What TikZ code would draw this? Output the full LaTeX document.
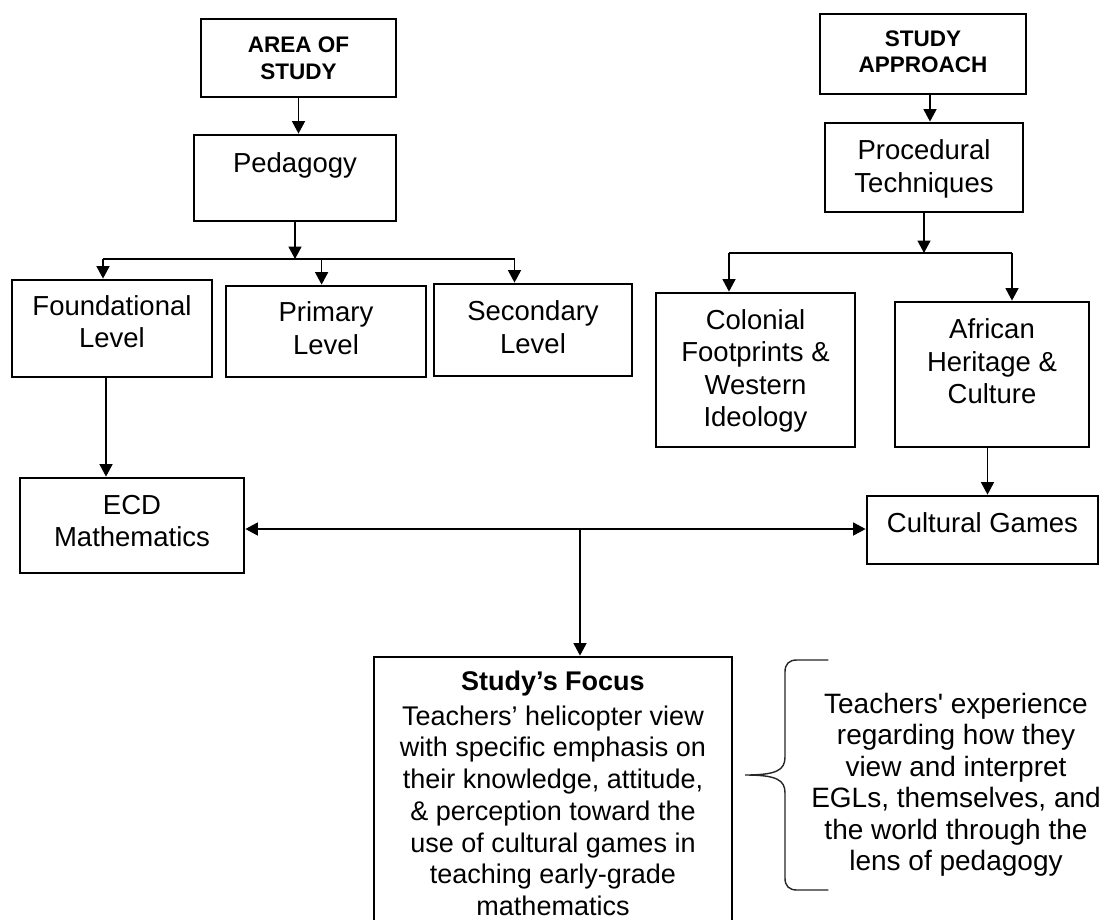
\documentclass[tikz,border=0pt]{standalone}
\usepackage{fontspec}
\setmainfont{Liberation Sans}
\usetikzlibrary{arrows.meta}
% strut that fixes the top of the first line of a label
\newcommand\capstrut{\rule{0pt}{0.8em}}
\begin{document}
\begin{tikzpicture}[x=1pt,y=-1pt,
  boxn/.style n args={2}{draw, line width=2.8pt, inner sep=0pt,
    minimum width=#1pt, minimum height=#2pt},
  lbl/.style={inner sep=0pt, anchor=north, align=center,
    font=\fontsize{27.5}{32.5}\selectfont},
  head/.style={inner sep=0pt, anchor=north, align=center,
    font=\fontsize{22.5}{26.5}\selectfont\bfseries},
  focushead/.style={inner sep=0pt, anchor=north, align=center,
    font=\fontsize{27}{31.7}\selectfont\bfseries},
  focusbody/.style={inner sep=0pt, anchor=north, align=center,
    font=\fontsize{27}{31.7}\selectfont},
  sidetext/.style={inner sep=0pt, anchor=north, align=center,
    font=\fontsize{28}{31.4}\selectfont},
  link/.style={line width=1.6pt},
  arr/.style={line width=1.6pt, -{Triangle[length=12.5pt,width=13pt]}},
  dblarr/.style={line width=1.6pt,
    {Triangle[length=12.5pt,width=13pt]}-{Triangle[length=12.5pt,width=13pt]}},
  bracepath/.style={line width=1.4pt, black!85, line cap=round}]

\useasboundingbox (0,0) rectangle (1117,919);
\fill[white] (0,0) rectangle (1117,919);
\clip (0,0) rectangle (1117,919);

% ---------- left column: area of study ----------
\node[boxn={195}{78}] (area) at (298.5,58) {};
\node[head] (areaT) at (298.5,34.7) {\capstrut AREA OF\\STUDY};

\node[boxn={202}{86}] (ped) at (295,178) {};
\node[lbl] (pedT) at (295,150) {\capstrut Pedagogy};

\node[boxn={200}{97}] (found) at (112,328.5) {};
\node[lbl] (foundT) at (112,293) {\capstrut Foundational\\Level};

\node[boxn={200}{91}] (prim) at (326,331.5) {};
\node[lbl] (primT) at (326,299.7) {\capstrut Primary\\Level};

\node[boxn={198}{92}] (sec) at (533,330) {};
\node[lbl] (secT) at (533,298.7) {\capstrut Secondary\\Level};

\node[boxn={224}{95}] (ecd) at (132,525.5) {};
\node[lbl] (ecdT) at (132,492) {\capstrut ECD\\Mathematics};

% ---------- right column: study approach ----------
\node[boxn={206}{80}] (sa) at (923,54) {};
\node[head] (saT) at (923,28) {\capstrut STUDY\\APPROACH};

\node[boxn={198}{89}] (proc) at (924,167.5) {};
\node[lbl] (procT) at (924,137.3) {\capstrut Procedural\\Techniques};

\node[boxn={199}{154}] (col) at (755.5,370) {};
\node[lbl] (colT) at (755.5,307) {\capstrut Colonial\\Footprints \&\\Western\\Ideology};

\node[boxn={194}{145}] (afr) at (992,374.5) {};
\node[lbl] (afrT) at (992,316.3) {\capstrut African\\Heritage \&\\Culture};

\node[boxn={231}{68}] (cg) at (982.5,530) {};
\node[lbl] (cgT) at (982.5,510.3) {\capstrut Cultural Games};

% ---------- focus of the study ----------
\node[boxn={358}{268}] (focus) at (553,791) {};
\node[focushead] (focusH) at (553,669.1) {\capstrut Study’s Focus};
\node[focusbody] (focusT) at (553,703.4) {\capstrut Teachers’ helicopter view\\
  with specific emphasis on\\their knowledge, attitude,\\
  \& perception toward the\\use of cultural games in\\
  teaching early-grade\\mathematics};

\node[sidetext] (sideT) at (956,690.9) {\capstrut Teachers\textquotesingle{} experience\\
  regarding how they\\view and interpret\\EGLs, themselves, and\\
  the world through the\\lens of pedagogy};

% ---------- connectors: left column ----------
\draw[arr] (area.south) -- (area.south |- ped.north);
\coordinate (pedFork) at (295,259);
\draw[arr] (ped.south) -- (pedFork);
\coordinate (forkL) at (103,259);
\coordinate (forkM) at (321.6,259);
\coordinate (forkR) at (514.5,259);
\draw[link] (forkL) -- (forkR);
\draw[arr] (forkL) -- (forkL |- found.north);
\draw[arr] (forkM) -- (forkM |- prim.north);
\draw[arr] (forkR) -- (forkR |- sec.north);
\draw[arr] ([xshift=-6pt]found.south) -- ([xshift=-6pt]found.south |- ecd.north);

% ---------- connectors: right column ----------
\draw[arr] ([xshift=7pt]sa.south) -- ([xshift=7pt]sa.south |- proc.north);
\coordinate (procFork) at (924,253);
\draw[arr] (proc.south) -- (procFork);
\coordinate (forkA) at (729,253);
\coordinate (forkB) at (1012,253);
\draw[link] (forkA) -- (forkB);
\draw[arr] (forkA) -- (forkA |- col.north);
\draw[arr] (forkB) -- (forkB |- afr.north);
\draw[arr] ([xshift=-4.5pt]afr.south) -- ([xshift=-4.5pt]afr.south |- cg.north);

% ---------- link between the two strands and the focus ----------
\coordinate (mid) at (580,529);
\draw[dblarr] (ecd.east |- mid) -- (cg.west |- mid);
\draw[arr] (mid) -- (mid |- focus.north);

% ---------- curly brace ----------
\draw[bracepath] (828,660) -- (797,660)
  .. controls (789,660) and (785,664) .. (785,672) -- (785,757)
  .. controls (785,770) and (777,775) .. (745,775)
  .. controls (777,775) and (785,780) .. (785,793) -- (785,878)
  .. controls (785,886) and (789,890) .. (797,890) -- (828,890);
\end{tikzpicture}
\end{document}
